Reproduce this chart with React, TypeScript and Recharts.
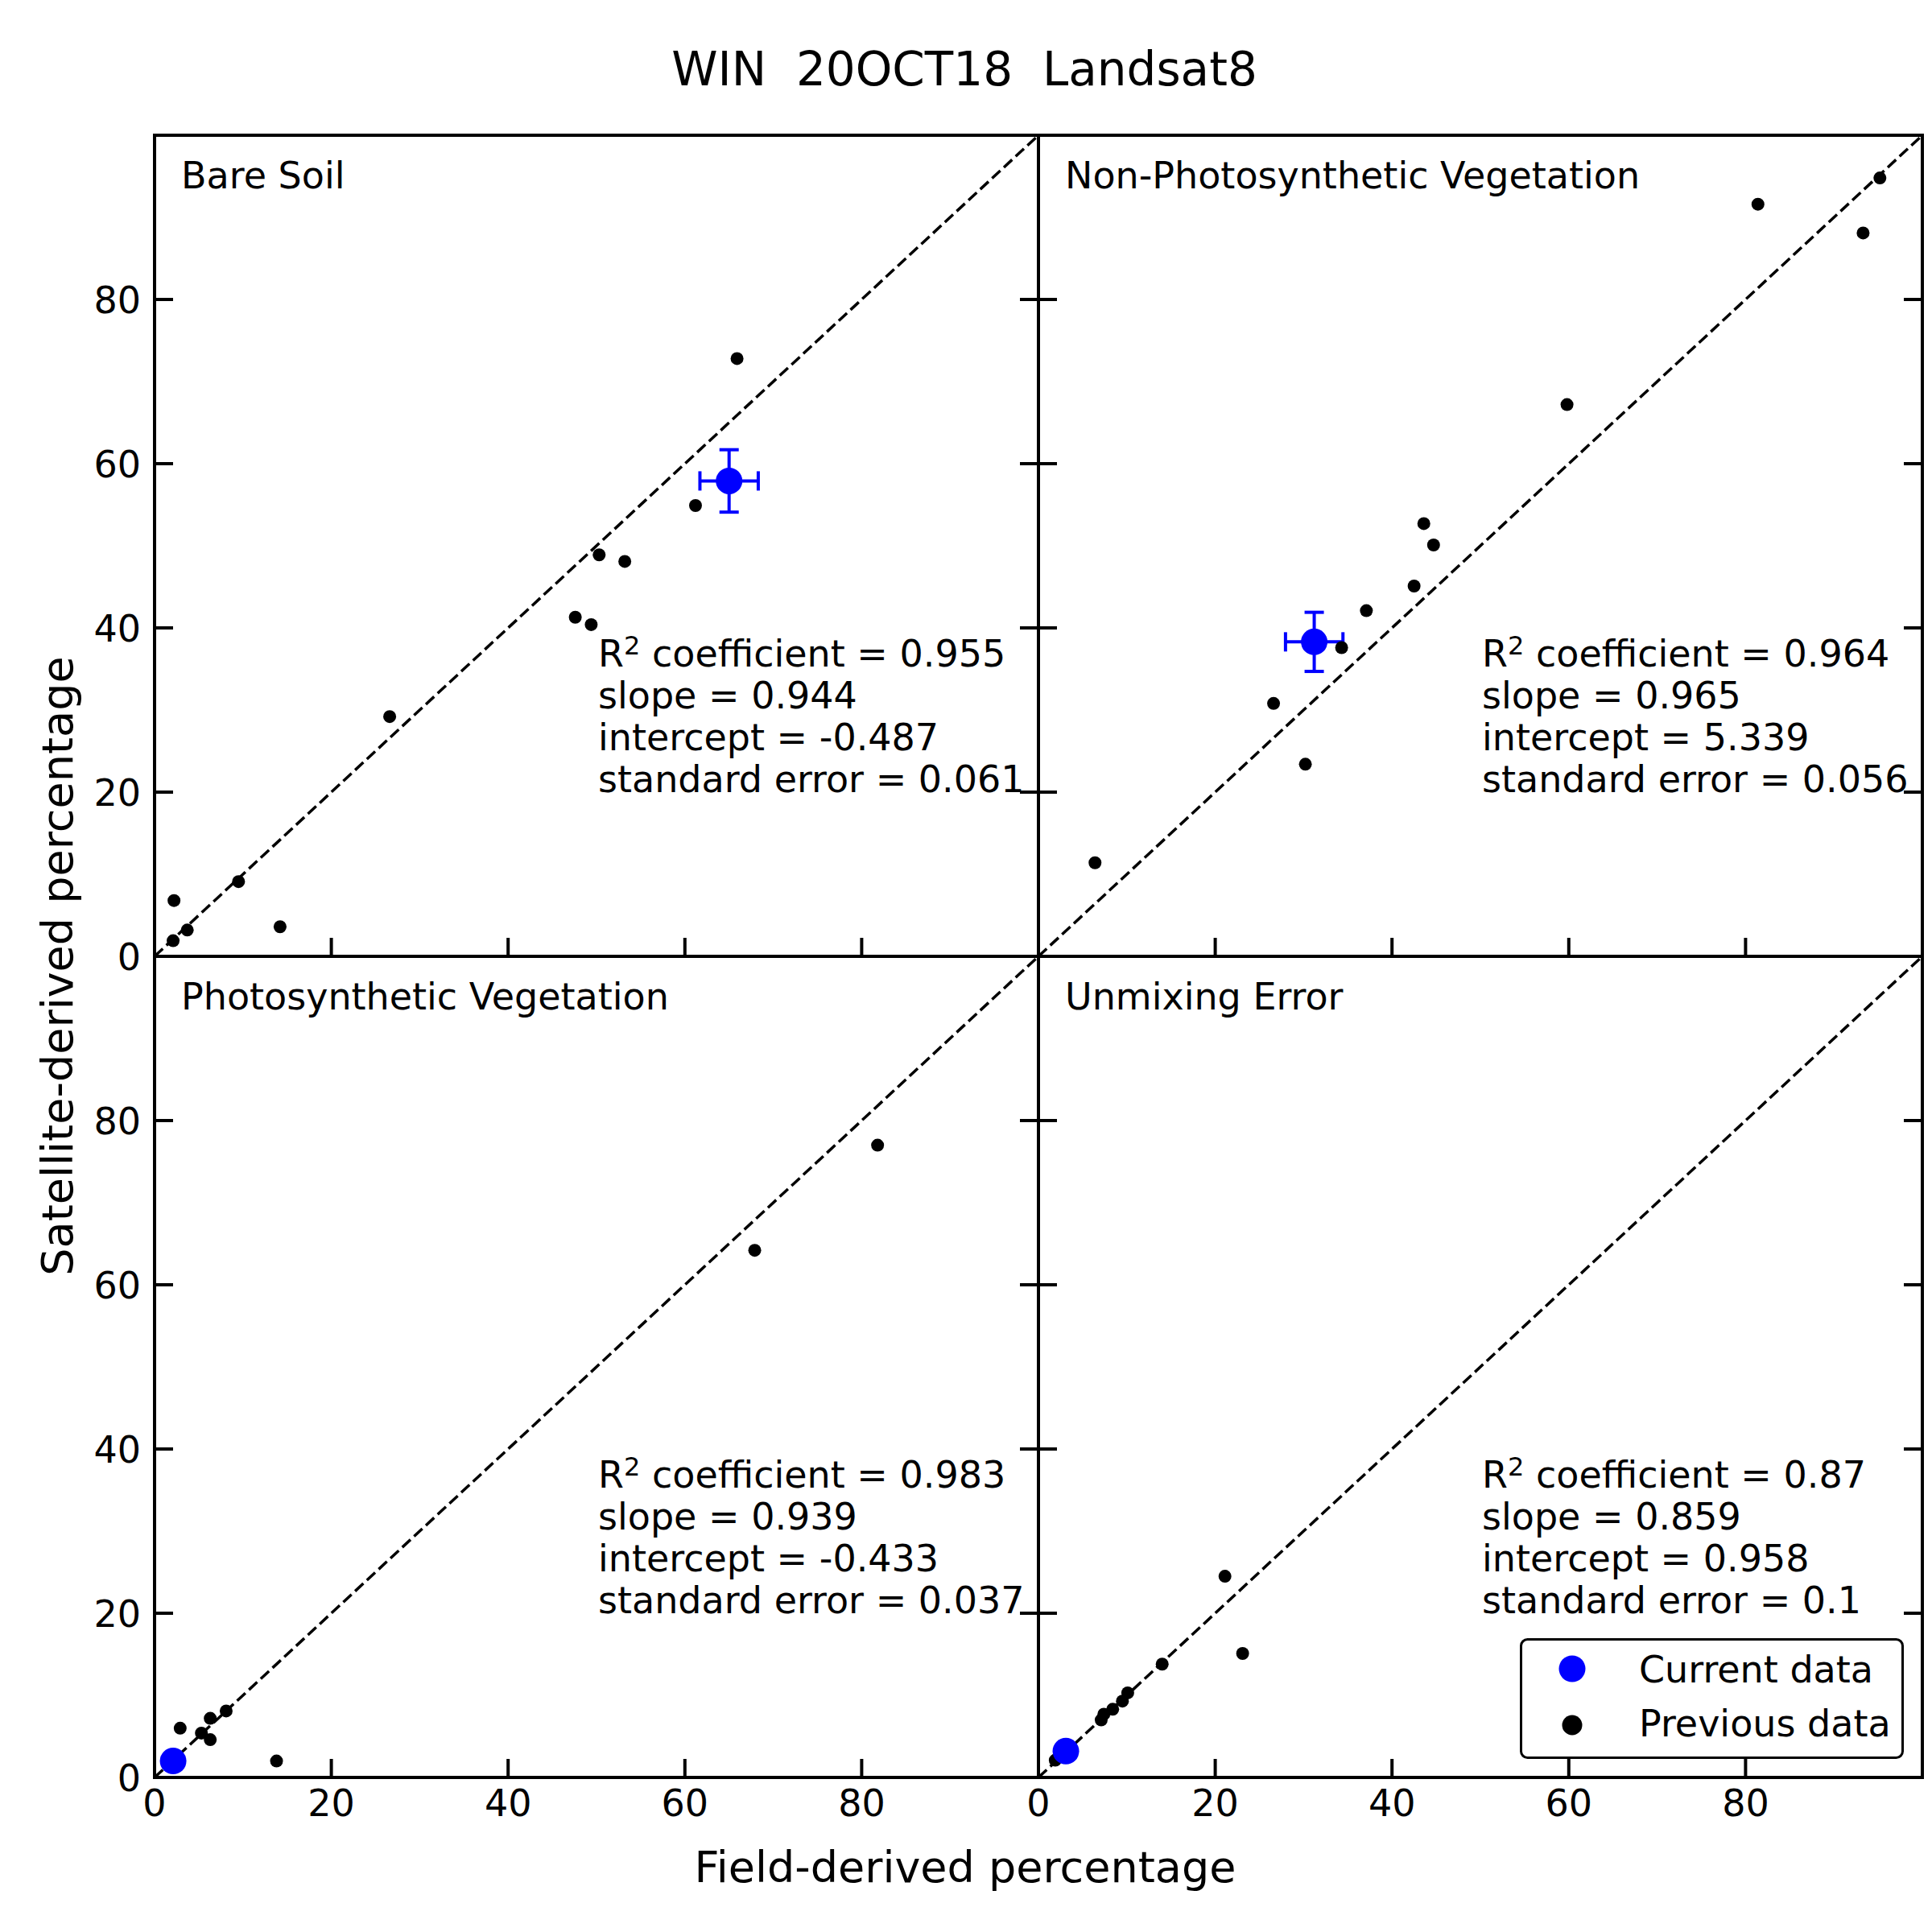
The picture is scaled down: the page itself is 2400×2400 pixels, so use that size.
import React from 'react';
import { ScatterChart, Scatter, XAxis, YAxis, ReferenceLine, ErrorBar, Legend } from 'recharts';

const FONT = '"DejaVu Sans", "Liberation Sans", sans-serif';

// shared axis ticks (0..100 domain, matplotlib style)
const axisTicks = [0, 20, 40, 60, 80];
const axisDomain = [0, 100];

// field-derived (x) vs satellite-derived (y)
const bareSoilPrevious = [
  [2.2, 6.8], [2.1, 1.9], [3.7, 3.2], [9.5, 9.1], [14.2, 3.6], [26.6, 29.2],
  [47.6, 41.3], [49.4, 40.4], [50.3, 48.9], [53.2, 48.1], [61.2, 54.9], [65.9, 72.8],
];
const bareSoilCurrent = [[65.0, 57.9]];
const bareSoilError = [[3.3, 3.8]];
const bareSoilStats = ['0.955', '0.944', '-0.487', '0.061'];

const npvPrevious = [
  [6.4, 11.4], [26.6, 30.8], [30.2, 23.4], [34.3, 37.6], [37.1, 42.1], [42.5, 45.1],
  [43.6, 52.7], [44.7, 50.1], [59.8, 67.2], [81.4, 91.6], [93.3, 88.1], [95.2, 94.8],
];
const npvCurrent = [[31.2, 38.3]];
const npvError = [[3.25, 3.6]];
const npvStats = ['0.964', '0.965', '5.339', '0.056'];

const pvPrevious = [
  [2.9, 6.0], [5.3, 5.4], [6.3, 7.2], [6.3, 4.6], [8.1, 8.1], [13.8, 2.0],
  [67.9, 64.2], [81.8, 77.0],
];
const pvCurrent = [[2.1, 2.0]];
const pvStats = ['0.983', '0.939', '-0.433', '0.037'];

const errPrevious = [
  [1.9, 2.1], [7.1, 7.0], [7.4, 7.7], [8.4, 8.3], [9.5, 9.3], [10.1, 10.3],
  [14.0, 13.8], [21.1, 24.5], [23.1, 15.1],
];
const errCurrent = [[3.1, 3.2]];
const errStats = ['0.87', '0.859', '0.958', '0.1'];

const legendItems = [
  { label: 'Current data', color: '#0000ff', r: 16.5 },
  { label: 'Previous data', color: '#000000', r: 12.5 },
];

// layout (page pixels)
const LEFT = 192;
const TOP = 168;
const PW = 1098;
const PH = 1020;
const M = 100;
const TICK_LEN = 23;
const BLUE = '#0000ff';

const panels = [
  { title: 'Bare Soil', prev: bareSoilPrevious, cur: bareSoilCurrent, err: bareSoilError, stats: bareSoilStats, col: 0, row: 0 },
  { title: 'Non-Photosynthetic Vegetation', prev: npvPrevious, cur: npvCurrent, err: npvError, stats: npvStats, col: 1, row: 0 },
  { title: 'Photosynthetic Vegetation', prev: pvPrevious, cur: pvCurrent, err: [], stats: pvStats, col: 0, row: 1 },
  { title: 'Unmixing Error', prev: errPrevious, cur: errCurrent, err: [], stats: errStats, col: 1, row: 1, legend: true },
];

const frameLine = { stroke: '#000', strokeWidth: 4, strokeLinecap: 'square' as const };

const makeTick = (side: string, labelled: boolean) => (props: any) => {
  const { x, y, payload } = props;
  const v = payload.value;
  let x2 = x;
  let y2 = y;
  if (side === 'bottom') y2 = y - TICK_LEN;
  if (side === 'top') y2 = y + TICK_LEN;
  if (side === 'left') x2 = x + TICK_LEN;
  if (side === 'right') x2 = x - TICK_LEN;
  let label = null;
  if (labelled && side === 'bottom') {
    label = <text x={x} y={y + 48} textAnchor="middle" fontSize={46} fontFamily={FONT} fill="#000">{v}</text>;
  }
  if (labelled && side === 'left') {
    label = <text x={x - 17} y={y + 17} textAnchor="end" fontSize={46} fontFamily={FONT} fill="#000">{v}</text>;
  }
  return (
    <g>
      <line x1={x} y1={y} x2={x2} y2={y2} stroke="#000" strokeWidth={4} />
      {label}
    </g>
  );
};

const dot = (r: number, color: string) => (p: any) => <circle cx={p.cx} cy={p.cy} r={r} fill={color} />;

function renderLegend() {
  return (
    <svg width={477} height={150}>
      <rect x={1.5} y={1.5} width={474} height={147} rx={8} fill="#fff" stroke="#000" strokeWidth={3} />
      {legendItems.map((item, i) => (
        <g key={item.label}>
          <circle cx={65} cy={38 + i * 70} r={item.r} fill={item.color} />
          <text x={148} y={55 + i * 67} fontSize={46} fontFamily={FONT} fill="#000">{item.label}</text>
        </g>
      ))}
    </svg>
  );
}

function Panel({ cfg }: { cfg: any }) {
  const ox = LEFT + cfg.col * PW;
  const oy = TOP + cfg.row * PH;
  const prev = cfg.prev.map(([x, y]: number[]) => ({ x, y }));
  const cur = cfg.cur.map(([x, y]: number[], i: number) => ({
    x,
    y,
    ex: cfg.err[i] ? cfg.err[i][0] : 0,
    ey: cfg.err[i] ? cfg.err[i][1] : 0,
  }));
  // axes need a non-zero box to be drawn, so they get 1px and the margin gives it back
  const common = { type: 'number' as const, domain: axisDomain, ticks: axisTicks, allowDataOverflow: true, interval: 0 as const, tickSize: 0, tickMargin: 0, tickLine: false, axisLine: frameLine };
  return (
    <div style={{ position: 'absolute', left: ox - M, top: oy - M }}>
      <ScatterChart width={PW + 2 * M} height={PH + 2 * M} margin={{ top: M - 1, right: M - 1, bottom: M - 1, left: M - 1 }}>
        <XAxis xAxisId="b" dataKey="x" orientation="bottom" height={1} {...common} tick={makeTick('bottom', cfg.row === 1)} />
        <XAxis xAxisId="t" orientation="top" height={1} {...common} tick={makeTick('top', false)} />
        <YAxis yAxisId="l" dataKey="y" orientation="left" width={1} {...common} tick={makeTick('left', cfg.col === 0)} />
        <YAxis yAxisId="r" orientation="right" width={1} {...common} tick={makeTick('right', false)} />
        <ReferenceLine
          xAxisId="b"
          yAxisId="l"
          segment={[{ x: 0, y: 0 }, { x: 100, y: 100 }]}
          stroke="#000"
          strokeWidth={3.5}
          strokeDasharray="14 6"
          ifOverflow="visible"
        />
        <Scatter name="Previous data" xAxisId="b" yAxisId="l" data={prev} fill="#000" shape={dot(8, '#000')} isAnimationActive={false} />
        <Scatter name="Current data" xAxisId="b" yAxisId="l" data={cur} fill={BLUE} shape={dot(16.5, BLUE)} isAnimationActive={false}>
          {cfg.err.length > 0 && <ErrorBar dataKey="ex" direction="x" width={12} stroke={BLUE} strokeWidth={4} />}
          {cfg.err.length > 0 && <ErrorBar dataKey="ey" direction="y" width={12} stroke={BLUE} strokeWidth={4} />}
        </Scatter>
        {cfg.legend && (
          <Legend
            layout="vertical"
            align="center"
            verticalAlign="middle"
            content={renderLegend}
            wrapperStyle={{ left: 698, top: 947, width: 477, height: 150 }}
          />
        )}
      </ScatterChart>
    </div>
  );
}

function PanelText({ cfg }: { cfg: any }) {
  const ox = LEFT + cfg.col * PW;
  const oy = TOP + cfg.row * PH;
  const sx = ox + 551;
  const [r2, slope, intercept, se] = cfg.stats;
  return (
    <g fontFamily={FONT} fontSize={46} fill="#000">
      <text x={ox + 33} y={oy + 66}>{cfg.title}</text>
      <text x={sx} y={oy + 660}>
        R<tspan fontSize={32} dy={-15}>2</tspan>
        <tspan dy={15}>{' coefficient = ' + r2}</tspan>
      </text>
      <text x={sx} y={oy + 712}>{'slope = ' + slope}</text>
      <text x={sx} y={oy + 764}>{'intercept = ' + intercept}</text>
      <text x={sx} y={oy + 816}>{'standard error = ' + se}</text>
    </g>
  );
}

export default function App() {
  return (
    <div style={{ position: 'absolute', left: 0, top: 0, width: 2400, height: 2400, background: '#fff' }}>
      {panels.map((p) => (
        <Panel key={p.title} cfg={p} />
      ))}
      <svg width={2400} height={2400} style={{ position: 'absolute', left: 0, top: 0, pointerEvents: 'none' }}>
        <text x={1198} y={106} textAnchor="middle" fontSize={58} fontFamily={FONT} xmlSpace="preserve" style={{ whiteSpace: 'pre' }}>
          {'WIN  20OCT18  Landsat8'}
        </text>
        <text x={1199} y={2338} textAnchor="middle" fontSize={54} fontFamily={FONT}>
          Field-derived percentage
        </text>
        <text x={90} y={1200} textAnchor="middle" fontSize={54} fontFamily={FONT} transform="rotate(-90 90 1200)">
          Satellite-derived percentage
        </text>
        {panels.map((p) => (
          <PanelText key={p.title} cfg={p} />
        ))}
      </svg>
    </div>
  );
}
